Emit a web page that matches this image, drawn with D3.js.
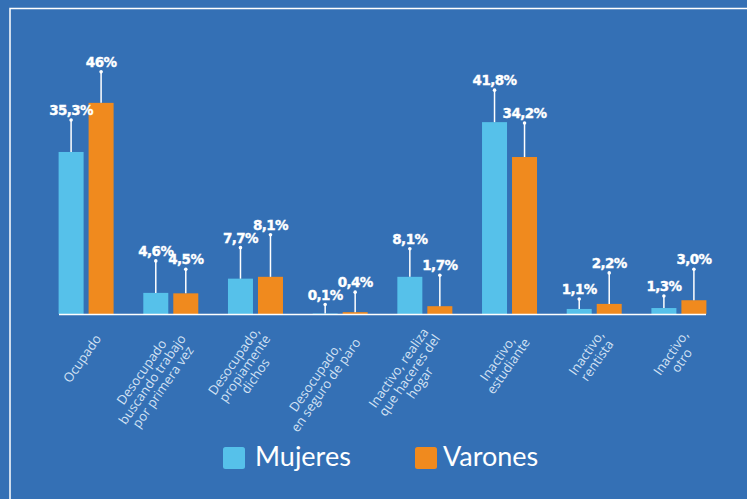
<!DOCTYPE html>
<html>
<head>
<meta charset="utf-8">
<script src="https://cdn.jsdelivr.net/npm/d3@7"></script>
<style>
  html, body { margin: 0; padding: 0; background: #3470b5; }
  svg { display: block; }
</style>
</head>
<body>
<svg id="chart" width="747" height="499"></svg>
<script>
// ---------- data ----------
const categories = [
  ["Ocupado"],
  ["Desocupado", "buscando trabajo", "por primera vez"],
  ["Desocupado,", "propiamente", "dichos"],
  ["Desocupado,", "en seguro de paro"],
  ["Inactivo, realiza", "que haceres del", "hogar"],
  ["Inactivo,", "estudiante"],
  ["Inactivo,", "rentista"],
  ["Inactivo,", "otro"]
];
const series = ["Mujeres", "Varones"];
const mujeres = [35.3, 4.6, 7.7, 0.1, 8.1, 41.8, 1.1, 1.3];
const varones = [46, 4.5, 8.1, 0.4, 1.7, 34.2, 2.2, 3.0];
const mujeresLabels = ["35,3%", "4,6%", "7,7%", "0,1%", "8,1%", "41,8%", "1,1%", "1,3%"];
const varonesLabels = ["46%", "4,5%", "8,1%", "0,4%", "1,7%", "34,2%", "2,2%", "3,0%"];

// ---------- layout / style ----------
const colors = { Mujeres: "#56c1ea", Varones: "#f08a1e" };
const bg = "#3470b5";
// leader-line lengths (annotation layout, px)
const leadM = [32, 32, 31, 9, 28, 32, 10, 12];
const leadV = [31, 24, 42, 20, 31, 34, 31, 31];

const svg = d3.select("#chart");
svg.append("rect").attr("width", 747).attr("height", 499).attr("fill", bg);
// frame (runs off right and bottom)
svg.append("path")
  .attr("d", "M10,520 V8.5 H760")
  .attr("fill", "none").attr("stroke", "#ffffff").attr("stroke-width", 1.5);

const baseY = 314;
const idx = d3.range(categories.length);
const x0 = d3.scalePoint().domain(idx).range([59, 706]).padding(0.32);
const x1 = d3.scaleBand().domain(series).range([-27.5, 27.5]).paddingInner(1 / 6);
const y = d3.scaleLinear().domain([0, 50]).range([baseY, baseY - 229.5]);

const rows = idx.map(i => ({
  i,
  vals: [
    { s: "Mujeres", v: mujeres[i], lab: mujeresLabels[i], lead: leadM[i] },
    { s: "Varones", v: varones[i], lab: varonesLabels[i], lead: leadV[i] }
  ]
}));

const g = svg.append("g");
const grp = g.selectAll("g.grp").data(rows).join("g")
  .attr("class", "grp")
  .attr("transform", d => `translate(${x0(d.i)},0)`);

grp.selectAll("rect").data(d => d.vals).join("rect")
  .attr("x", d => x1(d.s))
  .attr("width", x1.bandwidth())
  .attr("y", d => y(d.v))
  .attr("height", d => baseY - y(d.v))
  .attr("fill", d => colors[d.s]);

// leader lines
grp.selectAll("line.lead").data(d => d.vals).join("line")
  .attr("class", "lead")
  .attr("x1", d => x1(d.s) + x1.bandwidth() / 2)
  .attr("x2", d => x1(d.s) + x1.bandwidth() / 2)
  .attr("y1", d => y(d.v))
  .attr("y2", d => y(d.v) - d.lead)
  .attr("stroke", "#fff").attr("stroke-width", 1.5);

grp.selectAll("circle.dot").data(d => d.vals).join("circle")
  .attr("class", "dot")
  .attr("cx", d => x1(d.s) + x1.bandwidth() / 2)
  .attr("cy", d => y(d.v) - d.lead)
  .attr("r", 1.8)
  .attr("fill", "#fff");

grp.selectAll("text.val").data(d => d.vals).join("text")
  .attr("class", "val")
  .attr("x", d => x1(d.s) + x1.bandwidth() / 2)
  .attr("y", d => y(d.v) - d.lead - 5)
  .attr("text-anchor", "middle")
  .attr("font-family", "'DejaVu Sans'")
  .attr("font-weight", 700)
  .attr("font-size", 13.5)
  .attr("letter-spacing", "-0.6px")
  .attr("fill", "#fff")
  .attr("stroke", "#fff")
  .attr("stroke-width", 0.35)
  .text(d => d.lab);

// axis line
const axis = d3.axisBottom(x0).tickSize(0).tickFormat("");
const axG = svg.append("g").attr("transform", `translate(0,${baseY})`).call(axis);
axG.select(".domain").attr("stroke", "#fff").attr("stroke-width", 1.6)
  .attr("d", "M59,0.5H706");

// category labels (rotated, multi-line, centre aligned)
const lh = 13;
idx.forEach(i => {
  const lines = categories[i];
  const lg = svg.append("g")
    .attr("transform", `translate(${x0(i) + 12},${baseY + 22}) rotate(-55)`);
  const txt = lg.selectAll("text").data(lines).join("text")
    .attr("font-family", "'Open Sans'")
    .attr("font-size", 13)
    .attr("fill", "#d3e2f4")
    .attr("text-anchor", "middle")
    .attr("dy", (d, j) => ((j - (lines.length - 1) / 2) * lh + 4.5) + "px")
    .text(d => d);
  let maxW = 0;
  txt.each(function () { maxW = Math.max(maxW, this.getComputedTextLength()); });
  txt.attr("x", -maxW / 2);
});

// legend
const leg = svg.append("g");
const legItems = [
  { s: "Mujeres", x: 223, tx: 255 },
  { s: "Varones", x: 415, tx: 443 }
];
legItems.forEach(d => {
  leg.append("rect").attr("x", d.x).attr("y", 447).attr("width", 22).attr("height", 22)
    .attr("rx", 2.5).attr("fill", colors[d.s]);
  leg.append("text").attr("x", d.tx).attr("y", 466)
    .attr("font-family", "Lato").attr("font-weight", 400).attr("font-size", 27)
    .attr("fill", "#fff").text(d.s);
});
</script>
</body>
</html>
